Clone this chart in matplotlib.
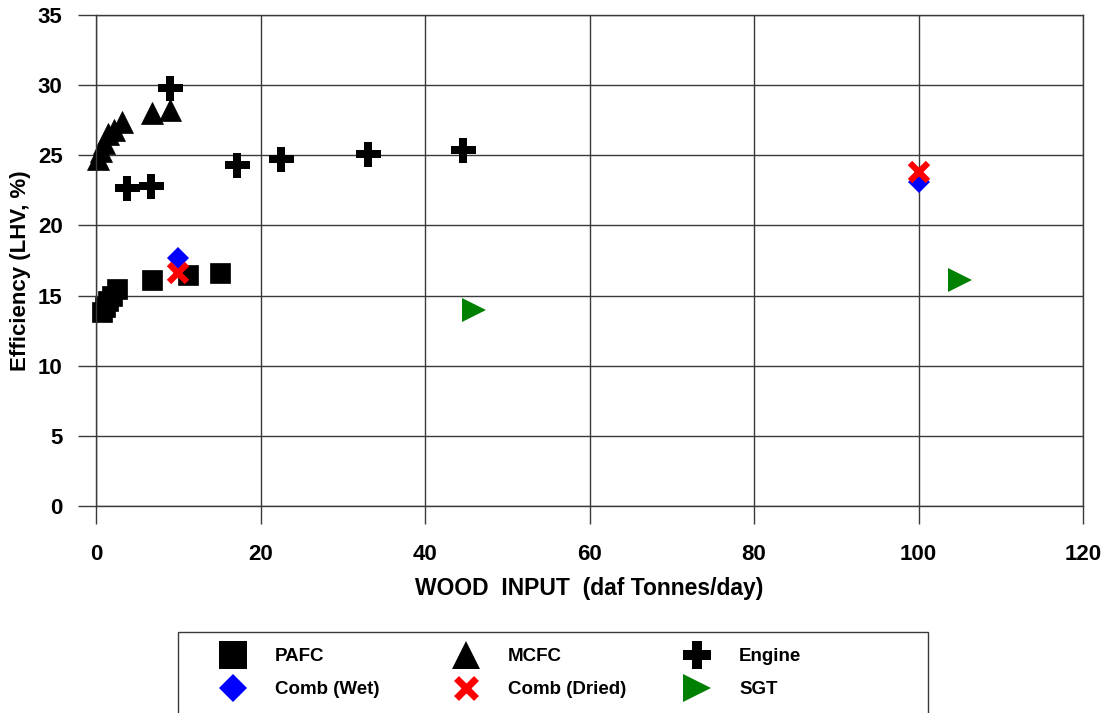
import matplotlib
matplotlib.use("Agg")
import matplotlib.pyplot as plt
from matplotlib.lines import Line2D
from matplotlib.patches import Rectangle

plt.rcParams['font.family'] = ['Liberation Sans', 'DejaVu Sans']

# Wood input (daf tonnes/day) and LHV efficiency (%) for each system
pafc_x = [0.7, 1.1, 1.5, 2.0, 2.6, 6.8, 11.2, 15.1]
pafc_y = [13.8, 14.2, 14.6, 15.0, 15.5, 16.1, 16.5, 16.6]

mcfc_x = [0.3, 0.6, 1.0, 1.5, 2.2, 3.2, 6.8, 9.0]
mcfc_y = [24.7, 25.3, 25.9, 26.5, 26.8, 27.4, 28.0, 28.2]

engine_x = [9.0, 3.8, 6.7, 17.2, 22.5, 33.1, 44.6]
engine_y = [29.8, 22.7, 22.8, 24.3, 24.7, 25.1, 25.4]

comb_wet_x = [10.0, 100.0]
comb_wet_y = [17.7, 23.1]

comb_dried_x = [10.0, 100.0]
comb_dried_y = [16.6, 23.8]

sgt_x = [45.9, 105.1]
sgt_y = [14.0, 16.1]

x_ticks = [0, 20, 40, 60, 80, 100, 120]
y_ticks = [0, 5, 10, 15, 20, 25, 30, 35]

W, H = 1107, 713
fig = plt.figure(figsize=(W / 100, H / 100), dpi=100)
ax = fig.add_axes([96 / W, 1 - 506 / H, 987 / W, 491 / H])

ax.set_xlim(0, 120)
ax.set_ylim(0, 35)
ax.set_xticks(x_ticks)
ax.set_yticks(y_ticks)
ax.grid(True, color='#3a3a3a', linewidth=1.0)
ax.set_axisbelow(True)
for s in ax.spines.values():
    s.set_color('#3a3a3a')
    s.set_linewidth(1.0)
ax.tick_params(direction='out', length=13, width=1.0, color='#3a3a3a',
               labelsize=16)
ax.tick_params(axis='x', pad=14)
ax.tick_params(axis='y', pad=11)
for lab in ax.get_xticklabels() + ax.get_yticklabels():
    lab.set_fontweight('bold')

ax.set_xlabel('WOOD  INPUT  (daf Tonnes/day)', fontsize=16.5,
              fontweight='bold', labelpad=9)
ax.set_ylabel('Efficiency (LHV, %)', fontsize=16, fontweight='bold',
              va='center')
ax.yaxis.set_label_coords((21 - 96) / 987, (506 - 271) / 491)

kw = dict(linestyle='none', clip_on=False)
ax.plot(pafc_x, pafc_y, marker='s', ms=14, color='black', mew=0.5, **kw)
ax.plot(mcfc_x, mcfc_y, marker='^', ms=16, color='black', mew=0.5, **kw)
ax.plot(engine_x, engine_y, marker='P', ms=18, color='black', mew=0, **kw)
ax.plot(comb_wet_x, comb_wet_y, marker='D', ms=11, color='#0000ff', mew=0, **kw)
ax.plot(comb_dried_x, comb_dried_y, marker='x', ms=13, color='#ff0000',
        mew=4.5, **kw)
ax.plot(sgt_x, sgt_y, marker='>', ms=17, color='#008000', mew=0, **kw)


def handle(marker, color, ms, mew=0):
    return Line2D([], [], linestyle='none', marker=marker, color=color,
                  ms=ms, mew=mew)


# Legend frame (its lower edge runs past the bottom of the figure)
fig.add_artist(Rectangle((178 / W, -0.05), 750 / W, 0.05 + 1 - 632 / H,
                         transform=fig.transFigure, fill=False,
                         edgecolor='#3a3a3a', linewidth=1.0))

legend_columns = [
    (233, [handle('s', 'black', 20), handle('D', '#0000ff', 14)],
     ['PAFC', 'Comb (Wet)']),
    (466, [handle('^', 'black', 20), handle('x', '#ff0000', 15, 5)],
     ['MCFC', 'Comb (Dried)']),
    (697, [handle('P', 'black', 20), handle('>', '#008000', 20)],
     ['Engine', 'SGT']),
]
fs_leg = 13.5
fs_px = fs_leg / 0.72
hl = 1.4
for cx, hs, ls in legend_columns:
    x0 = cx - hl * fs_px / 2
    fig.legend(hs, ls, loc='upper left',
               bbox_to_anchor=(x0 / W, 1 - 648 / H),
               frameon=False, borderpad=0, borderaxespad=0,
               handlelength=hl, handletextpad=(42 - hl * fs_px / 2) / fs_px,
               labelspacing=0.85,
               prop={'size': fs_leg, 'weight': 'bold'})

fig.savefig('out.png', dpi=100)
